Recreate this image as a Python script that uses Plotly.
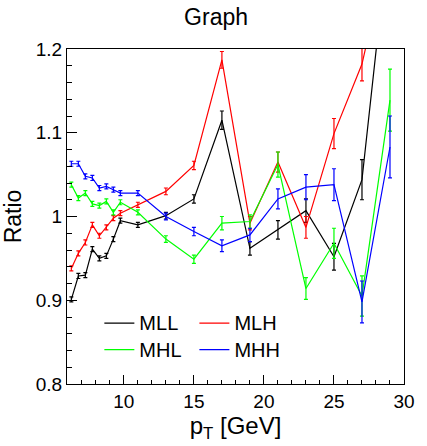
import plotly.graph_objects as go

# ---- data ----
pt = [6.25, 6.75, 7.25, 7.75, 8.25, 8.75, 9.25, 9.75, 11, 13, 15, 17, 19, 21, 23, 25, 27, 29]

mll = [0.901, 0.929, 0.930, 0.961, 0.950, 0.953, 0.973, 0.995, 0.990, 1.001, 1.021, 1.115, 0.962, 0.984, 1.007, 0.952, 1.044, 1.350]
mlh = [0.938, 0.956, 0.969, 0.990, 0.977, 0.987, 0.998, 1.004, 1.014, 1.030, 1.061, 1.187, 0.992, 1.065, 0.987, 1.099, 1.182, 1.330]
mhl = [1.038, 1.022, 1.028, 1.015, 1.013, 1.018, 1.005, 1.017, 1.005, 0.973, 0.949, 0.992, 0.994, 1.062, 0.914, 0.968, 0.905, 1.139]
mhh = [1.063, 1.063, 1.048, 1.046, 1.034, 1.036, 1.032, 1.028, 1.028, 1.000, 0.982, 0.965, 0.978, 1.021, 1.035, 1.038, 0.898, 1.083]

mll_err = [0.003, 0.003, 0.003, 0.003, 0.003, 0.003, 0.003, 0.003, 0.003, 0.004, 0.005, 0.011, 0.008, 0.011, 0.014, 0.016, 0.024, 0.040]
mlh_err = [0.003, 0.003, 0.003, 0.003, 0.003, 0.003, 0.003, 0.003, 0.003, 0.004, 0.005, 0.010, 0.008, 0.012, 0.013, 0.018, 0.020, 0.040]
mhl_err = [0.003, 0.003, 0.003, 0.003, 0.003, 0.003, 0.003, 0.003, 0.003, 0.004, 0.005, 0.008, 0.008, 0.015, 0.013, 0.018, 0.024, 0.037]
mhh_err = [0.003, 0.003, 0.003, 0.003, 0.003, 0.003, 0.003, 0.003, 0.003, 0.004, 0.005, 0.007, 0.008, 0.012, 0.015, 0.019, 0.025, 0.037]

series = [
    ("MLL", mll, mll_err, "#000000", "legend"),
    ("MLH", mlh, mlh_err, "#ff0000", "legend2"),
    ("MHL", mhl, mhl_err, "#00ff00", "legend"),
    ("MHH", mhh, mhh_err, "#0000ff", "legend2"),
]

y_ticks = [0.8, 0.9, 1.0, 1.1, 1.2]
y_ticktext = ["0.8", "0.9", "1", "1.1", "1.2"]
x_ticks = [10, 15, 20, 25, 30]

FONT = "Liberation Sans, Arial, Helvetica, sans-serif"

fig = go.Figure()
for name, ys, es, col, lg in series:
    fig.add_trace(go.Scatter(
        x=pt, y=ys, name='<span style="font-size:20px">' + name + "</span>", mode="lines",
        line=dict(color=col, width=1.2),
        error_y=dict(type="data", array=es, visible=True, color=col, thickness=1.2, width=2),
        legend=lg, cliponaxis=True,
    ))

legend_common = dict(
    orientation="v", bgcolor="rgba(0,0,0,0)", borderwidth=0,
    font=dict(family=FONT, size=18, color="black"),
    xanchor="left", yanchor="top", tracegroupgap=0, itemwidth=30,
)

fig.update_layout(
    width=427, height=446,
    margin=dict(l=67, r=13, t=49, b=62),
    paper_bgcolor="white", plot_bgcolor="white",
    font=dict(family=FONT, color="black"),
    showlegend=True,
    title=dict(text="Graph", x=0.506, xanchor="center", xref="container",
               y=0.962, yanchor="middle", yref="container",
               font=dict(family=FONT, size=23, color="black")),
    legend=dict(x=0.096, y=0.236, **legend_common),
    legend2=dict(x=0.378, y=0.236, **legend_common),
    xaxis=dict(
        range=[5.94, 30.0], tickvals=x_ticks, ticks="inside", ticklen=9, tickwidth=1,
        tickcolor="black", showline=True, linecolor="black", linewidth=1, mirror=True,
        showgrid=False, zeroline=False,
        tickfont=dict(family=FONT, size=19, color="black"),
        minor=dict(dtick=1, tick0=0, ticks="inside", ticklen=4, tickcolor="black", showgrid=False),
        title=dict(text="p<sub>T</sub> [GeV]", font=dict(family=FONT, size=24, color="black"), standoff=4),
    ),
    yaxis=dict(
        range=[0.8, 1.2], tickvals=y_ticks, ticktext=y_ticktext, ticks="inside", ticklen=10,
        tickwidth=1, tickcolor="black", showline=True, linecolor="black", linewidth=1, mirror=True,
        showgrid=False, zeroline=False,
        tickfont=dict(family=FONT, size=19, color="black"),
        minor=dict(dtick=0.02, tick0=0.8, ticks="inside", ticklen=5, tickcolor="black", showgrid=False),
        title=dict(text="Ratio", font=dict(family=FONT, size=23, color="black"), standoff=8),
    ),
)

fig.write_html("out.html")
